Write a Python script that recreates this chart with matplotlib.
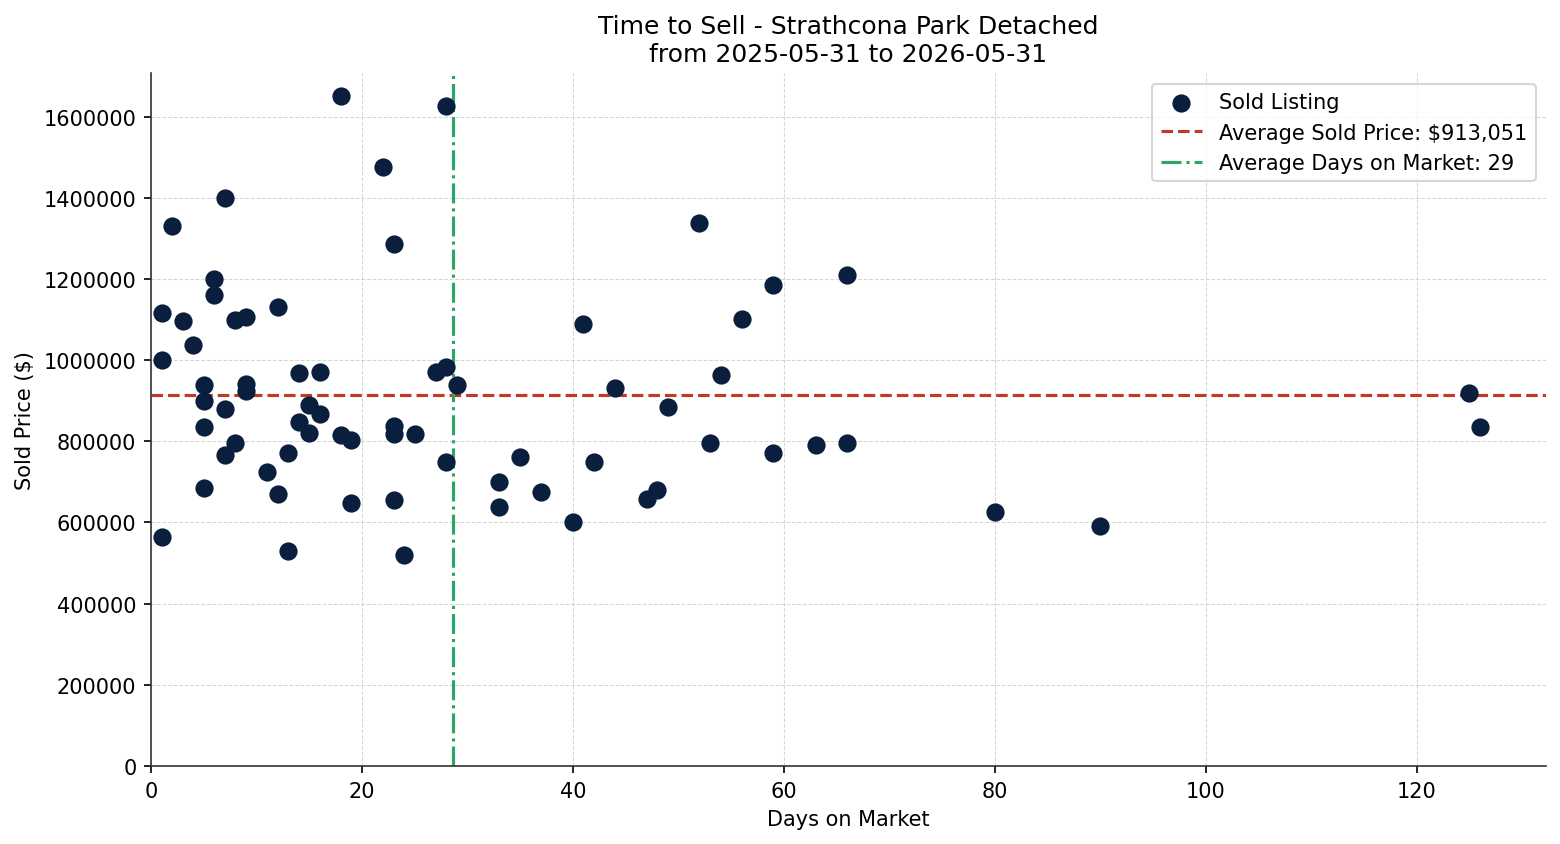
import numpy as np
import matplotlib
matplotlib.use("Agg")
import matplotlib.pyplot as plt

# Days on market / sold price
days = [1, 1, 1, 2, 3, 4, 5, 5, 5, 5, 6, 6, 7, 7, 7, 8, 8, 9, 9, 9,
        11, 12, 12, 13, 13, 14, 14, 15, 15, 16, 16, 18, 18, 19, 19,
        22, 23, 23, 23, 23, 24, 25, 27, 28, 28, 28, 29, 33, 33, 35,
        37, 40, 41, 42, 44, 47, 48, 49, 52, 53, 54, 56, 59, 59, 63,
        66, 66, 80, 90, 125, 126]
prices = [1115000, 1000000, 565000, 1330000, 1097000, 1038000, 939000, 900000,
          836000, 685000, 1200000, 1160000, 1400000, 880000, 767000, 1100000,
          796000, 1107000, 942000, 925000,
          725000, 1130000, 670000, 772000, 530000, 968000, 848000, 890000,
          821000, 970000, 868000, 1650000, 815000, 804000, 648000,
          1477000, 1287000, 838000, 818000, 655000, 520000, 818000, 972000,
          1627000, 983000, 749000, 938000, 700000, 638000, 762000,
          675000, 601000, 1090000, 749000, 932000, 658000, 680000, 885000,
          1339000, 796000, 964000, 1102000, 1186000, 772000, 791000,
          1210000, 796000, 626000, 592000, 920000, 836000]

avg_price = 913051
avg_days = np.mean(days)

fig, ax = plt.subplots(figsize=(10.4, 5.633), dpi=150)
fig.subplots_adjust(left=0.0968, right=0.991, top=0.912, bottom=0.0923)

ax.scatter(days, prices, s=60, color="#0a1f3d", label="Sold Listing", zorder=3)
ax.axhline(avg_price, color="#c0392b", linestyle="--", linewidth=1.5,
           label=f"Average Sold Price: ${avg_price:,}")
ax.axvline(avg_days, color="#2ca664", linestyle="-.", linewidth=1.5,
           label=f"Average Days on Market: {round(avg_days)}")

ax.set_xlim(left=0)
ax.set_ylim(bottom=0)
ax.ticklabel_format(axis="y", style="plain")
ax.set_yticks(np.arange(0, 1600001, 200000))

ax.grid(True, linestyle="--", linewidth=0.5, color="#cccccc", alpha=0.8)
ax.set_axisbelow(True)
ax.spines["top"].set_visible(False)
ax.spines["right"].set_visible(False)
for s in ("left", "bottom"):
    ax.spines[s].set_color("#333333")

ax.set_title("Time to Sell - Strathcona Park Detached\nfrom 2025-05-31 to 2026-05-31")
ax.set_xlabel("Days on Market")
ax.set_ylabel("Sold Price ($)")
ax.legend(loc="upper right")

fig.savefig("out.png")
